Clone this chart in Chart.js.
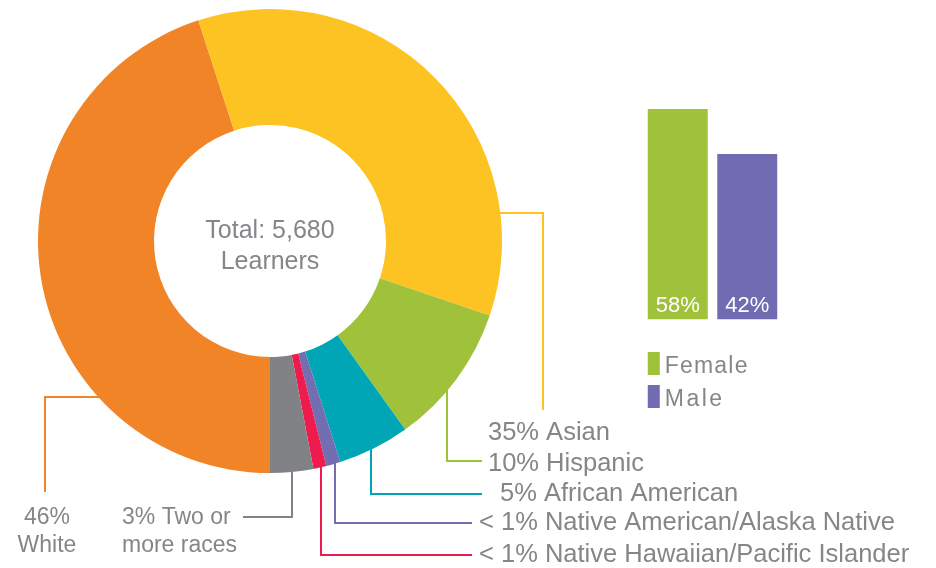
<!DOCTYPE html>
<html><head><meta charset="utf-8">
<script src="https://cdn.jsdelivr.net/npm/chart.js@4/dist/chart.umd.min.js"></script>
<style>
html,body{margin:0;padding:0;background:#fff;}
#wrap{position:relative;width:936px;height:568px;overflow:hidden;background:#fff;}
canvas{position:absolute;left:0;top:0;}
</style></head><body>
<div id="wrap"><canvas id="donut" width="936" height="568"></canvas><canvas id="bars" width="936" height="568"></canvas></div>
<script>
// ---- data ----
const raceCategories = ['White','Asian','Hispanic','African American','Native American/Alaska Native','Native Hawaiian/Pacific Islander','Two or more races'];
const raceValues = [45, 35.2, 9.9, 5, 1, 0.9, 3];
const raceLabels = [['46%','White'], ['35% Asian'], ['10% Hispanic'], ['5% African American'], ['< 1% Native American/Alaska Native'], ['< 1% Native Hawaiian/Pacific Islander'], ['3% Two or','more races']];
const raceColors = ['#F28428','#FDC323','#A0C23B','#00A6B6','#736DB2','#EE1B4F','#808285'];
const totalLabel = ['Total: 5,680','Learners'];
const genderCategories = ['Female','Male'];
const genderValues = [58, 42];
const genderLabels = ['58%','42%'];
const genderColors = ['#A0C23B','#716CB1'];

// ---- layout of annotations ----
const TEXT = '#848689';
const FONT_R = '25.5px "Liberation Sans", Arial, sans-serif';
const FONT_L = '23px "Liberation Sans", Arial, sans-serif';
const leaders = [
  {kind:'h', at:397, side:-1, path:[[45,397],[45,492]], tx:47, ty:[524,552], align:'center', font:FONT_L},
  {kind:'h', at:213, side:1, path:[[543,213],[543,410]], tx:488, ty:[440], align:'left', font:FONT_R},
  {kind:'v', at:447, path:[[447,461],[482,461]], tx:488, ty:[471], align:'left', font:FONT_R},
  {kind:'v', at:371, path:[[371,494],[482,494]], tx:500, ty:[501], align:'left', font:FONT_R},
  {kind:'v', at:335, path:[[335,523],[472,523]], tx:479, ty:[530], align:'left', font:FONT_R},
  {kind:'v', at:321, path:[[321,555],[472,555]], tx:479, ty:[562], align:'left', font:FONT_R},
  {kind:'v', at:292, path:[[292,517],[243,517]], tx:122, ty:[524,552], align:'left', font:FONT_L}
];

const donutAnno = {
  id:'donutAnno',
  afterDraw(chart){
    const ctx = chart.ctx;
    const arcs = chart.getDatasetMeta(0).data;
    const cx = arcs[0].x, cy = arcs[0].y, R = arcs[0].outerRadius;
    ctx.save();
    ctx.lineWidth = 2;
    leaders.forEach((L,i)=>{
      let sx, sy;
      if (L.kind==='h'){ sy = L.at; sx = cx + L.side*(Math.sqrt(R*R-(sy-cy)*(sy-cy)) - 1); }
      else { sx = L.at; sy = cy + Math.sqrt(R*R-(sx-cx)*(sx-cx)) - 1; }
      ctx.strokeStyle = raceColors[i];
      ctx.beginPath();
      ctx.moveTo(sx, sy);
      L.path.forEach(p=>ctx.lineTo(p[0],p[1]));
      ctx.stroke();
      ctx.fillStyle = TEXT; ctx.font = L.font; ctx.textAlign = L.align; ctx.textBaseline='alphabetic';
      raceLabels[i].forEach((t,k)=>ctx.fillText(t, L.tx, L.ty[k]));
    });
    ctx.font = '25px "Liberation Sans", Arial, sans-serif';
    ctx.textAlign='center';
    ctx.fillText(totalLabel[0], cx, 237.5);
    ctx.fillText(totalLabel[1], cx, 269);
    ctx.restore();
  }
};

new Chart(document.getElementById('donut'), {
  type:'doughnut',
  data:{labels:raceCategories, datasets:[{data:raceValues, backgroundColor:raceColors, borderWidth:0}]},
  options:{
    responsive:false, animation:false, devicePixelRatio:1, events:[],
    cutout:'50%', rotation:180,
    layout:{padding:{left:38, top:9, right:434, bottom:95}},
    plugins:{legend:{display:false}, tooltip:{enabled:false}}
  },
  plugins:[donutAnno]
});

const Y_MIN = -16.8;
const barAnno = {
  id:'barAnno',
  afterDraw(chart){
    const ctx = chart.ctx;
    const bars = chart.getDatasetMeta(0).data;
    ctx.save();
    ctx.font = '22px "Liberation Sans", Arial, sans-serif';
    ctx.fillStyle = '#ffffff'; ctx.textAlign='center'; ctx.textBaseline='alphabetic';
    bars.forEach((b,i)=>ctx.fillText(genderLabels[i], b.x, b.base - 7.5));
    // legend
    const lx = bars[0].x - bars[0].width/2;
    ctx.textAlign='left';
    ctx.font = '23px "Liberation Sans", Arial, sans-serif';
    const ly = [352, 385];
    const sp = ['1.2px','2.5px'];
    genderCategories.forEach((c,i)=>{
      ctx.fillStyle = genderColors[i];
      ctx.fillRect(lx, ly[i], 12, 23);
      ctx.fillStyle = TEXT;
      try{ ctx.letterSpacing = sp[i]; }catch(e){}
      ctx.fillText(c, lx+17, ly[i]+21);
    });
    ctx.restore();
  }
};

new Chart(document.getElementById('bars'), {
  type:'bar',
  data:{labels:genderCategories, datasets:[{data:genderValues, base:Y_MIN, backgroundColor:genderColors, borderWidth:0, barPercentage:0.863, categoryPercentage:1}]},
  options:{
    responsive:false, animation:false, devicePixelRatio:1, events:[],
    layout:{padding:{left:643, right:154, top:109, bottom:248.5}},
    scales:{x:{display:false}, y:{display:false, min:Y_MIN, max:58}},
    plugins:{legend:{display:false}, tooltip:{enabled:false}}
  },
  plugins:[barAnno]
});
</script>
</body></html>
